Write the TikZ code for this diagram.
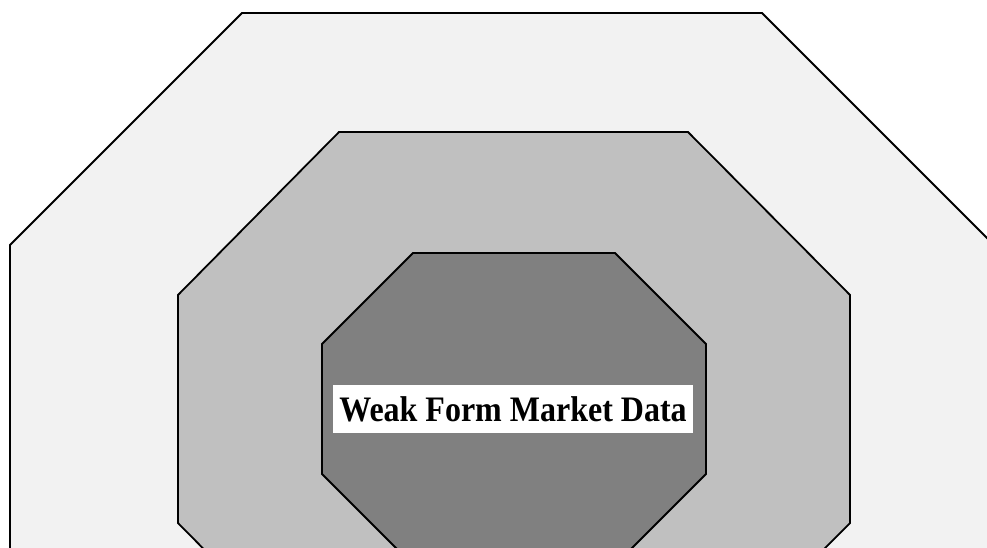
\documentclass[tikz,border=0pt]{standalone}
\usepackage{fontspec}
\setmainfont{Liberation Serif}
\begin{document}
\begin{tikzpicture}[x=1pt,y=-1pt,
  ring/.style={draw=black,line width=1.8pt,line join=miter},
  tag/.style={fill=white,inner sep=0pt,minimum width=360pt,minimum height=48pt,
    font=\fontsize{32}{36}\selectfont\bfseries}]
\useasboundingbox (0,0) rectangle (987,547);
\clip (0,0) rectangle (987,547);
% outer ring
\path[ring,fill={rgb,255:red,242;green,242;blue,242}]
  (242,13) -- (762,13) -- (994,245) -- (994,577) -- (762,809) -- (242,809) -- (10,577) -- (10,245) -- cycle;
% middle ring
\path[ring,fill={rgb,255:red,192;green,192;blue,192}]
  (339,132) -- (688,132) -- (850,295) -- (850,523) -- (688,686) -- (339,686) -- (178,523) -- (178,295) -- cycle;
% inner core
\path[ring,fill={rgb,255:red,128;green,128;blue,128}]
  (413,253) -- (615,253) -- (706,344) -- (706,474) -- (615,565) -- (413,565) -- (322,474) -- (322,344) -- cycle;
\node[tag] (core) at (513,409) {\raisebox{-2pt}{\scalebox{1}[1.12]{Weak Form Market Data}}};
\end{tikzpicture}
\end{document}
